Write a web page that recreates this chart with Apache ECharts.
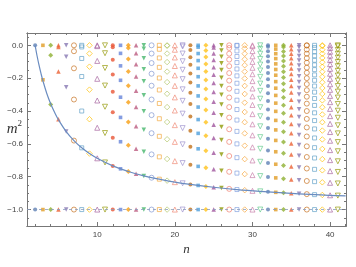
<!DOCTYPE html>
<html><head><meta charset="utf-8">
<script src="https://cdn.jsdelivr.net/npm/echarts@6/dist/echarts.min.js"></script>
<style>html,body{margin:0;padding:0;background:#fff}#c{width:356px;height:267px}</style>
</head><body><div id="c"></div>
<script>
// m^2 levels for each n
const nValues = [2,3,4,5,6,7,8,9,10,11,12,13,14,15,16,17,18,19,20,21,22,23,24,25,26,27,28,29,30,31,32,33,34,35,36,37,38,39,40,41];
const n02 = [0, -1];
const n03 = [0, -0.21, -1];
const n04 = [0, -0.06, -0.36, -1];
const n05 = [0, -0.01, -0.16, -0.45, -1];
const n06 = [0, -0.07, -0.255, -0.525, -1];
const n07 = [0, -0.036, -0.14, -0.33, -0.58, -1];
const n08 = [0, -0.01, -0.08, -0.19, -0.40, -0.624, -1];
const n09 = [0, -0.05, -0.13, -0.27, -0.45, -0.659, -1];
const n10 = [0, -0.005, -0.095, -0.204, -0.336, -0.502, -0.688, -1];
const n11 = [0, -0.048, -0.138, -0.245, -0.374, -0.534, -0.713, -1];
const n12 = [0, -0.012, -0.088, -0.177, -0.282, -0.408, -0.562, -0.734, -1];
const n13 = [0, -0.049, -0.125, -0.213, -0.316, -0.439, -0.587, -0.752, -1];
const n14 = [0, -0.017, -0.083, -0.159, -0.246, -0.347, -0.467, -0.609, -0.768, -1];
const n15 = [0, -0.049, -0.115, -0.190, -0.276, -0.375, -0.492, -0.629, -0.782, -1];
const n16 = [0, -0.021, -0.079, -0.145, -0.219, -0.304, -0.401, -0.514, -0.648, -0.795, -1];
const n17 = [0, -0.050, -0.108, -0.173, -0.246, -0.330, -0.425, -0.535, -0.664, -0.806, -1];
const n18 = [0, -0.024, -0.077, -0.134, -0.199, -0.272, -0.354, -0.447, -0.554, -0.679, -0.815, -1];
const n19 = [0, -0.003, -0.050, -0.102, -0.160, -0.224, -0.295, -0.376, -0.467, -0.572, -0.692, -0.824, -1];
const n20 = [0, -0.027, -0.074, -0.126, -0.183, -0.247, -0.317, -0.397, -0.486, -0.588, -0.705, -0.833, -1];
const n21 = [0, -0.007, -0.050, -0.097, -0.149, -0.206, -0.268, -0.338, -0.416, -0.504, -0.603, -0.717, -0.840, -1];
const n22 = [0, -0.029, -0.072, -0.119, -0.171, -0.227, -0.289, -0.358, -0.434, -0.520, -0.617, -0.727, -0.847, -1];
const n23 = [0, -0.011, -0.050, -0.093, -0.140, -0.191, -0.247, -0.308, -0.376, -0.452, -0.536, -0.630, -0.737, -0.853, -1];
const n24 = [0, -0.031, -0.071, -0.114, -0.160, -0.211, -0.266, -0.327, -0.394, -0.468, -0.550, -0.642, -0.746, -0.859, -1];
const n25 = [0, -0.014, -0.050, -0.090, -0.133, -0.179, -0.229, -0.284, -0.344, -0.410, -0.483, -0.564, -0.654, -0.755, -0.864, -1];
const n26 = [0, -0.032, -0.069, -0.109, -0.151, -0.197, -0.247, -0.301, -0.361, -0.426, -0.497, -0.576, -0.664, -0.763, -0.869, -1];
const n27 = [0, -0.016, -0.051, -0.087, -0.127, -0.169, -0.215, -0.264, -0.318, -0.376, -0.440, -0.511, -0.588, -0.674, -0.770, -0.874, -1];
const n28 = [0, -0.002, -0.034, -0.068, -0.105, -0.144, -0.186, -0.231, -0.280, -0.334, -0.391, -0.455, -0.524, -0.600, -0.684, -0.778, -0.878, -1];
const n29 = [0, -0.019, -0.051, -0.085, -0.121, -0.160, -0.202, -0.247, -0.296, -0.349, -0.406, -0.468, -0.536, -0.611, -0.693, -0.784, -0.882, -1];
const n30 = [0, -0.005, -0.035, -0.067, -0.101, -0.137, -0.176, -0.218, -0.263, -0.311, -0.363, -0.419, -0.481, -0.548, -0.621, -0.701, -0.790, -0.886, -1];
const n31 = [0, -0.021, -0.051, -0.083, -0.117, -0.153, -0.192, -0.233, -0.277, -0.325, -0.377, -0.432, -0.493, -0.559, -0.630, -0.709, -0.796, -0.889, -1];
const n32 = [0, -0.008, -0.036, -0.066, -0.098, -0.132, -0.168, -0.206, -0.248, -0.292, -0.339, -0.390, -0.445, -0.504, -0.569, -0.640, -0.717, -0.802, -0.892, -1];
const n33 = [0, -0.023, -0.051, -0.081, -0.113, -0.147, -0.182, -0.221, -0.261, -0.305, -0.352, -0.402, -0.457, -0.515, -0.579, -0.648, -0.724, -0.807, -0.895, -1];
const n34 = [0, -0.010, -0.037, -0.065, -0.095, -0.127, -0.161, -0.196, -0.234, -0.275, -0.318, -0.365, -0.414, -0.468, -0.526, -0.589, -0.657, -0.731, -0.812, -0.898, -1];
const n35 = [0, -0.024, -0.051, -0.079, -0.109, -0.141, -0.174, -0.210, -0.248, -0.288, -0.331, -0.377, -0.426, -0.479, -0.536, -0.598, -0.665, -0.737, -0.817, -0.901, -1];
const n36 = [0, -0.012, -0.038, -0.065, -0.093, -0.123, -0.154, -0.188, -0.223, -0.260, -0.300, -0.343, -0.389, -0.437, -0.490, -0.546, -0.607, -0.672, -0.744, -0.821, -0.904, -1];
const n37 = [0, -0.001, -0.026, -0.051, -0.078, -0.106, -0.136, -0.167, -0.200, -0.236, -0.273, -0.313, -0.355, -0.400, -0.448, -0.500, -0.555, -0.615, -0.680, -0.750, -0.826, -0.906, -1];
const n38 = [0, -0.014, -0.039, -0.064, -0.091, -0.119, -0.148, -0.180, -0.213, -0.248, -0.285, -0.324, -0.366, -0.411, -0.458, -0.509, -0.564, -0.623, -0.686, -0.755, -0.830, -0.909, -1];
const n39 = [0, -0.004, -0.027, -0.051, -0.077, -0.103, -0.131, -0.161, -0.192, -0.225, -0.260, -0.296, -0.335, -0.377, -0.421, -0.468, -0.519, -0.573, -0.631, -0.693, -0.761, -0.834, -0.911, -1];
const n40 = [0, -0.016, -0.039, -0.063, -0.089, -0.115, -0.143, -0.173, -0.204, -0.237, -0.271, -0.308, -0.346, -0.387, -0.431, -0.478, -0.528, -0.581, -0.638, -0.699, -0.766, -0.837, -0.913, -1];
const n41 = [0, -0.006, -0.028, -0.051, -0.075, -0.101, -0.127, -0.155, -0.184, -0.215, -0.248, -0.282, -0.318, -0.357, -0.398, -0.441, -0.487, -0.536, -0.589, -0.645, -0.706, -0.771, -0.841, -0.915, -1];
const levelLists = [n02,n03,n04,n05,n06,n07,n08,n09,n10,n11,n12,n13,n14,n15,n16,n17,n18,n19,n20,n21,n22,n23,n24,n25,n26,n27,n28,n29,n30,n31,n32,n33,n34,n35,n36,n37,n38,n39,n40,n41];

// envelope curve
const curveN  = [2, 2.1, 2.25, 2.5, 2.75, 3, 3.5, 4, 4.5, 5, 6, 7, 8, 9, 10, 12, 14, 16, 18, 20, 22, 25, 28, 31, 34, 38, 42];
const curveM2 = [0, -0.027, -0.065, -0.121, -0.171, -0.216, -0.293, -0.356, -0.408, -0.453, -0.525, -0.580, -0.624, -0.659, -0.688, -0.734, -0.768, -0.795, -0.815, -0.833, -0.847, -0.864, -0.878, -0.889, -0.898, -0.909, -0.917];
const asymptote = -1;

const xMajor = [10, 20, 30, 40];
const xMinor = [2,4,6,8,12,14,16,18,22,24,26,28,32,34,36,38,42];
const yMajor = [0, -0.2, -0.4, -0.6, -0.8, -1.0];
const yMinor = [0.05,-0.05,-0.1,-0.15,-0.25,-0.3,-0.35,-0.45,-0.5,-0.55,-0.65,-0.7,-0.75,-0.85,-0.9,-0.95,-1.05];

const palette = ['#5E81B5','#E19C24','#8FB032','#EB6235','#8778B3','#C56E1A','#5D9EC7','#FFBF00','#A5609D','#929600','#E95536','#6685D9','#F89F13','#BC5B80','#47B66D',
                 '#7D93D0','#F2A63A','#AFC463','#EE8670','#9A8ECC','#C2721C','#4E9FDC','#FFC21A','#A0559D','#8E9A06','#EE7A6A','#7F9FDF','#F6A335','#C77BA8','#5FC98A'];
const shapes = ['circle','rect','diamond','triangle','triangle'];
const fSizes = [4, 3.6, 5, 4.5, 4.5];
const eSizes = [5, 4, 5.5, 5, 5];

const series = [];
nValues.forEach((n, i) => {
  const c = palette[i % 30];
  const m = i % 10;
  const filled = m < 5;
  const s = m % 5;
  series.push({
    type: 'scatter',
    symbol: shapes[s],
    symbolSize: filled ? fSizes[s] : eSizes[s],
    symbolRotate: s === 4 ? 180 : 0,
    itemStyle: filled ? { color: c } : { color: 'rgba(255,255,255,0)', borderColor: c, borderWidth: 0.8, opacity: 0.85 },
    data: levelLists[i].map(v => [n, v]),
    z: 3,
    silent: true,
    animation: false
  });
});
series.push({
  type: 'line',
  data: curveN.map((x, i) => [x, curveM2[i]]),
  smooth: 0.4,
  showSymbol: false,
  lineStyle: { color: '#6A8CC0', width: 1.2 },
  z: 4,
  animation: false,
  markLine: {
    silent: true, symbol: 'none', label: { show: false }, animation: false,
    lineStyle: { color: '#8A9CBC', width: 0.8, type: [3, 3] },
    data: [{ yAxis: asymptote }]
  }
});

const frameColor = '#777';
const lab = { color: '#444', fontSize: 8, fontFamily: 'Liberation Sans, Arial, sans-serif' };
function xAx(pos, ticks, len, labels) {
  return {
    type: 'value', min: 0.95, max: 42.05, position: pos, offset: 0,
    axisLine: { show: true, onZero: false, lineStyle: { color: frameColor, width: 1 } },
    axisTick: { show: true, inside: true, length: len, customValues: ticks, lineStyle: { color: frameColor } },
    axisLabel: labels ? Object.assign({ customValues: ticks, margin: 5 }, lab) : { show: false },
    splitLine: { show: false }
  };
}
function yAx(pos, ticks, len, labels) {
  return {
    type: 'value', min: -1.1, max: 0.075, position: pos, offset: 0,
    axisLine: { show: true, onZero: false, lineStyle: { color: frameColor, width: 1 } },
    axisTick: { show: true, inside: true, length: len, customValues: ticks, lineStyle: { color: frameColor } },
    axisLabel: labels ? Object.assign({ customValues: ticks, margin: 4, formatter: v => (v < 0 ? '\u2212' : '') + Math.abs(v).toFixed(1) }, lab) : { show: false },
    splitLine: { show: false }
  };
}
const xs = [xAx('bottom', xMajor, 4, true), xAx('bottom', xMinor, 2, false), xAx('top', xMajor, 4, false), xAx('top', xMinor, 2, false)];
xs[0].name = 'n';
xs[0].nameLocation = 'middle';
xs[0].nameGap = 17;
xs[0].nameMoveOverlap = false;
xs[0].nameTextStyle = { fontFamily: 'Liberation Serif, serif', fontStyle: 'italic', fontSize: 13, color: '#333' };
const ys = [yAx('left', yMajor, 4, true), yAx('left', yMinor, 2, false), yAx('right', yMajor, 4, false), yAx('right', yMinor, 2, false)];
ys[0].name = '{m|m}{s|2}';
ys[0].nameLocation = 'middle';
ys[0].nameRotate = 0;
ys[0].nameGap = 5;
ys[0].nameMoveOverlap = false;
ys[0].nameTextStyle = { align: 'right', rich: {
  m: { fontFamily: 'Liberation Serif, serif', fontStyle: 'italic', fontSize: 15, color: '#333' },
  s: { fontFamily: 'Liberation Serif, serif', fontSize: 9, color: '#333', verticalAlign: 'top', padding: [0,0,11,0] }
} };

const chart = echarts.init(document.getElementById('c'), null, { renderer: 'canvas' });
chart.setOption({
  backgroundColor: '#fff',
  animation: false,
  grid: { left: 27, right: 10, top: 33, bottom: 41, containLabel: false, outerBoundsMode: 'none' },
  xAxis: xs,
  yAxis: ys,
  series: series
});
</script></body></html>
